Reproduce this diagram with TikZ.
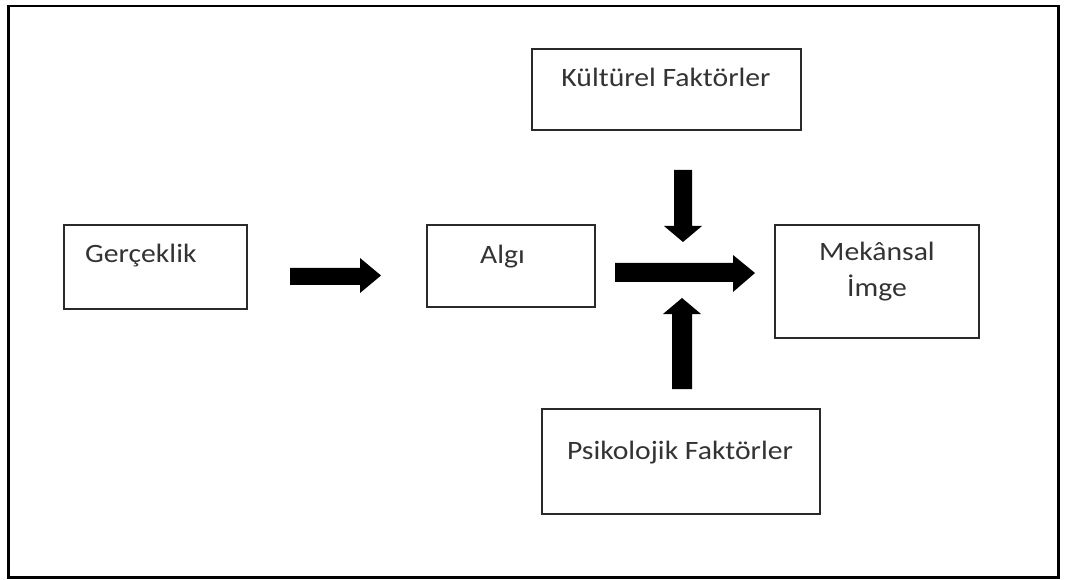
\documentclass[tikz,border=0pt]{standalone}
\usepackage{fontspec}
\setmainfont{Carlito}[FakeStretch=1.12]
\definecolor{txt}{HTML}{333333}
\definecolor{edge}{HTML}{2A2A2A}
\begin{document}
\begin{tikzpicture}[x=1pt,y=-1pt,
  box/.style={draw=edge,line width=2pt,inner sep=0pt,anchor=north west},
  lbl/.style={text=txt,font=\fontsize{26.5}{30}\selectfont,inner sep=0pt},
  blk/.style={fill=black,draw=none}]
\useasboundingbox (0,0) rectangle (1066,580);
\fill[white] (0,0) rectangle (1066,580);
\node[draw=black,line width=2.5pt,inner sep=0pt,anchor=north west,minimum width=1050pt,minimum height=571pt] (frame) at (7,5) {};
% boxes
\node[box,minimum width=183pt,minimum height=84pt] (ger) at (63,224) {};
\node[box,minimum width=168pt,minimum height=82pt] (alg) at (426,224) {};
\node[box,minimum width=269pt,minimum height=81pt] (kul) at (531,48) {};
\node[box,minimum width=204pt,minimum height=113pt] (mek) at (774,224) {};
\node[box,minimum width=278pt,minimum height=105pt] (psi) at (541,408) {};
% texts
\node[lbl,anchor=base west] (tger) at (85,263) {Gerçeklik};
\node[lbl,anchor=base west] (talg) at (480,264) {Algı};
\node[lbl,anchor=base] (tkul) at (666,87) {Kültürel Faktörler};
\node[lbl,anchor=base] (tmek1) at (877,261) {Mekânsal};
\node[lbl,anchor=base] (tmek2) at (877,297) {İmge};
\node[lbl,anchor=base] (tpsi) at (680,459) {Psikolojik Faktörler};
% block arrows
\fill[blk] (290,268) -- (360,268) -- (360,258) -- (381,275.5) -- (360,293) -- (360,285) -- (290,285) -- cycle;
\fill[blk] (674,170) -- (692,170) -- (692,226) -- (702,226) -- (683,242) -- (664,226) -- (674,226) -- cycle;
\fill[blk] (615,263) -- (733,263) -- (733,255) -- (755,273) -- (733,292) -- (733,282) -- (615,282) -- cycle;
\fill[blk] (672,389) -- (692,389) -- (692,314) -- (701,314) -- (682,298) -- (663,314) -- (672,314) -- cycle;
\end{tikzpicture}
\end{document}
